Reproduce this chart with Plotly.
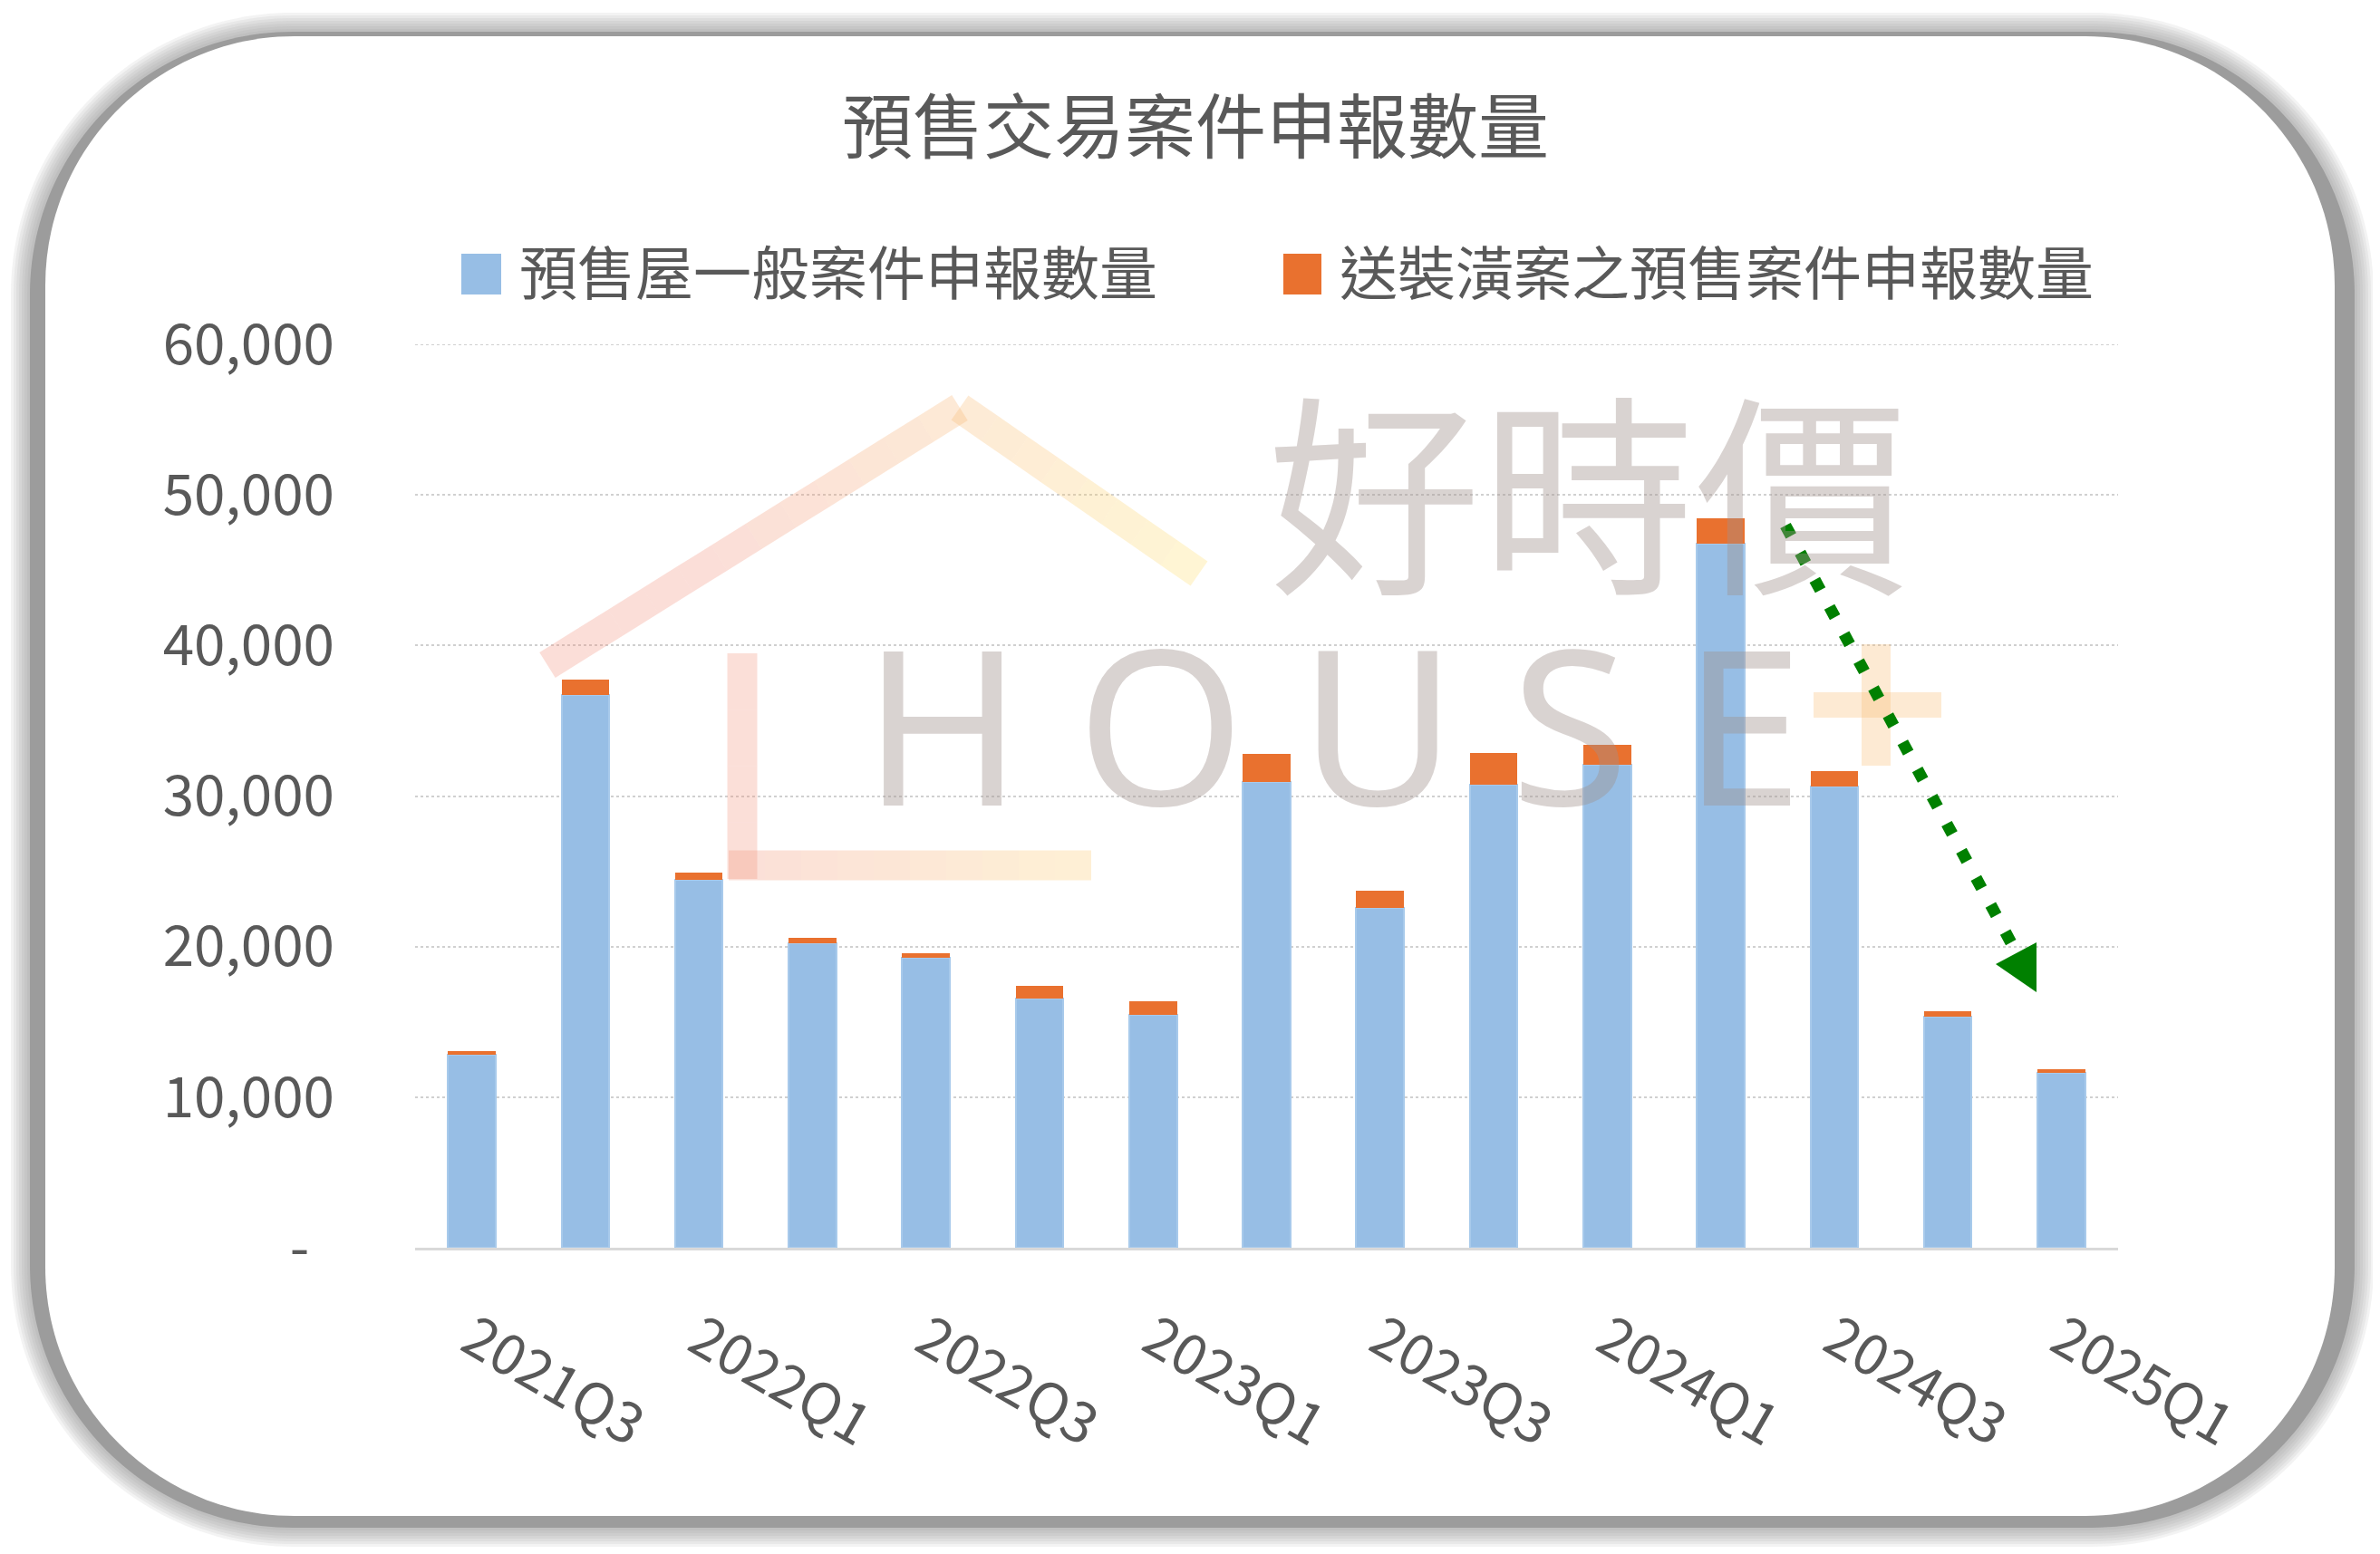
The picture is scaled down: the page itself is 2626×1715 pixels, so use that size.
import plotly.graph_objects as go

# ---------------- data ----------------
quarters = ["2021Q3", "2021Q4", "2022Q1", "2022Q2", "2022Q3", "2022Q4", "2023Q1", "2023Q2",
            "2023Q3", "2023Q4", "2024Q1", "2024Q2", "2024Q3", "2024Q4", "2025Q1"]
general_cases = [12820, 36690, 24430, 20200, 19230, 16570, 15480, 30930,
                 22540, 30730, 32100, 46770, 30650, 15360, 11610]
sent_cases = [250, 1050, 490, 400, 320, 810, 890, 1890,
              1170, 2140, 1330, 1700, 1010, 370, 240]
series_names = ["預售屋一般案件申報數量", "送裝潢案之預售案件申報數量"]
title_text = "預售交易案件申報數量"
y_tickvals = [0, 10000, 20000, 30000, 40000, 50000, 60000]
y_ticktext = ["-\u00a0\u00a0", "10,000", "20,000", "30,000", "40,000", "50,000", "60,000"]
x_tickvals = quarters[::2]

# ---------------- geometry helpers ----------------
OFF = 8                      # browser body margin
FW, FH = 2626 - 2 * OFF, 1715 - 2 * OFF
L, T, R, B = 458, 380, 2337, 1377   # plot area in page pixels
PW, PH = R - L, B - T
FONT = "Noto Sans CJK TC"
TXT = "#595959"
BLUE = "#97BEE5"
ORANGE = "#E9712F"
YMAX = 60000


def P(x, y):
    return (x - L) / PW, 1 - (y - T) / PH


def fmt(x, y):
    a, b = P(x, y)
    return f"{a:.5f},{b:.5f}"


def rr(x0, y0, x1, y1, r):
    k = 0.5523 * r
    return (f"M{fmt(x0 + r, y0)} L{fmt(x1 - r, y0)} "
            f"C{fmt(x1 - r + k, y0)} {fmt(x1, y0 + r - k)} {fmt(x1, y0 + r)} "
            f"L{fmt(x1, y1 - r)} "
            f"C{fmt(x1, y1 - r + k)} {fmt(x1 - r + k, y1)} {fmt(x1 - r, y1)} "
            f"L{fmt(x0 + r, y1)} "
            f"C{fmt(x0 + r - k, y1)} {fmt(x0, y1 - r + k)} {fmt(x0, y1 - r)} "
            f"L{fmt(x0, y0 + r)} "
            f"C{fmt(x0, y0 + r - k)} {fmt(x0 + r - k, y0)} {fmt(x0 + r, y0)} Z")


fig = go.Figure()
fig.add_trace(go.Bar(x=quarters, y=general_cases, name=series_names[0],
                     marker=dict(color=BLUE, line=dict(color="#A8CAEB", width=2))))
fig.add_trace(go.Bar(x=quarters, y=sent_cases, name=series_names[1],
                     marker=dict(color=ORANGE, line=dict(width=0))))

shapes = []
# ---- card frame with shadow ----
for i in range(7, 0, -1):
    e = 3 * i
    shapes.append(dict(type="path", xref="paper", yref="paper", layer="below",
                       path=rr(33 - e, 35 - e, 2598 + e, 1686 + e, 290 + e),
                       fillcolor="rgba(140,140,140,0.10)", line=dict(width=0)))
shapes.append(dict(type="path", xref="paper", yref="paper", layer="below",
                   path=rr(33, 35, 2598, 1686, 290),
                   fillcolor="#9C9C9C", line=dict(width=0)))
shapes.append(dict(type="path", xref="paper", yref="paper", layer="below",
                   path=rr(50, 40, 2576, 1673, 275),
                   fillcolor="white", line=dict(width=0)))

# top gridline at 60,000 (edge of the plot area)
shapes.append(dict(type="line", xref="paper", yref="y", layer="below",
                   x0=0, x1=1, y0=YMAX, y1=YMAX,
                   line=dict(color="#D0D0D0", width=2, dash="dot")))


# ---- watermark house outline (gradient pink -> yellow) ----
def grad_color(x):
    t = min(max((x - 780) / (1330 - 780), 0), 1)
    r = 240 + (255 - 240) * t
    g = 135 + (222 - 135) * t
    b = 115 + (98 - 115) * t
    return f"rgba({r:.0f},{g:.0f},{b:.0f},0.28)"


def grad_line(p0, p1, n=12, width=33):
    for i in range(n):
        xa = p0[0] + (p1[0] - p0[0]) * i / n
        ya = p0[1] + (p1[1] - p0[1]) * i / n
        xb = p0[0] + (p1[0] - p0[0]) * (i + 1) / n
        yb = p0[1] + (p1[1] - p0[1]) * (i + 1) / n
        a0, b0 = P(xa, ya)
        a1, b1 = P(xb, yb)
        shapes.append(dict(type="line", xref="paper", yref="paper", layer="above",
                           x0=a0, y0=b0, x1=a1, y1=b1,
                           line=dict(color=grad_color((xa + xb) / 2), width=width)))


grad_line((604, 734), (1059, 450))
grad_line((1059, 450), (1323, 633), n=8)
grad_line((819, 721), (819, 970), n=4)
grad_line((804, 955), (1204, 955), n=10)

# orange plus of the watermark
for (x0, y0, x1, y1) in [(2054, 711, 2086, 845), (2001, 764, 2142, 792)]:
    a0, b0 = P(x0, y0)
    a1, b1 = P(x1, y1)
    shapes.append(dict(type="rect", xref="paper", yref="paper", layer="above",
                       x0=a0, y0=b0, x1=a1, y1=b1,
                       fillcolor="rgba(248,185,110,0.30)", line=dict(width=0)))

# ---- green dotted trend arrow ----
a0, b0 = P(1970, 580)
a1, b1 = P(2222, 1046)
shapes.append(dict(type="line", xref="paper", yref="paper", layer="above",
                   x0=a0, y0=b0, x1=a1, y1=b1,
                   line=dict(color="#008000", width=13, dash="13px,21px")))
shapes.append(dict(type="path", xref="paper", yref="paper", layer="above",
                   path=f"M{fmt(2202, 1064)} L{fmt(2247, 1040)} L{fmt(2247, 1095)} Z",
                   fillcolor="#008000", line=dict(width=0)))

# ---- manual legend squares ----
for (x0, x1, col) in [(509, 553, BLUE), (1416, 1458, ORANGE)]:
    a0, b0 = P(x0, 280)
    a1, b1 = P(x1, 325)
    shapes.append(dict(type="rect", xref="paper", yref="paper", layer="above",
                       x0=a0, y0=b0, x1=a1, y1=b1, fillcolor=col, line=dict(width=0)))

annotations = []
for (x, txt) in [(571, series_names[0]), (1476, series_names[1])]:
    a, b = P(x, 297)
    annotations.append(dict(x=a, y=b, xref="paper", yref="paper", text=txt,
                            showarrow=False, xanchor="left", yanchor="middle",
                            font=dict(family=FONT, size=64, color=TXT)))

# watermark text
a, b = P(1752, 535)
annotations.append(dict(x=a, y=b, xref="paper", yref="paper", text="好時價",
                        showarrow=False, xanchor="center", yanchor="middle",
                        font=dict(family=FONT, size=236, color="rgba(160,145,140,0.40)")))
a, b = P(1470, 797)
annotations.append(dict(x=a, y=b, xref="paper", yref="paper",
                        text="H\u2005O\u2005U\u2005S\u2005E",
                        showarrow=False, xanchor="center", yanchor="middle",
                        font=dict(family="Noto Sans", size=238,
                                  color="rgba(160,145,140,0.40)")))

fig.update_layout(
    width=FW, height=FH,
    margin=dict(l=L - OFF, r=FW - (R - OFF), t=T - OFF, b=FH - (B - OFF), pad=0),
    paper_bgcolor="white", plot_bgcolor="rgba(0,0,0,0)",
    barmode="stack", bargap=0.58, showlegend=False,
    title=dict(text=title_text, x=(1319 - OFF) / FW, xref="container", xanchor="center",
               y=1 - (142 - OFF) / FH, yref="container", yanchor="middle",
               font=dict(family=FONT, size=78, color=TXT)),
    font=dict(family=FONT, color=TXT),
    shapes=shapes, annotations=annotations,
)
fig.update_yaxes(range=[0, YMAX], tickvals=y_tickvals, ticktext=y_ticktext,
                 showgrid=True, gridcolor="#D0D0D0", gridwidth=2, griddash="dot",
                 zeroline=False, showline=False, ticks="",
                 ticklabelstandoff=88, tickfont=dict(family=FONT, size=62, color=TXT))
fig.update_xaxes(tickvals=x_tickvals, ticktext=x_tickvals, tickangle=30,
                 showgrid=False, showline=True, linecolor="#D9D9D9", linewidth=3,
                 ticks="", ticklabelstandoff=38,
                 tickfont=dict(family=FONT, size=62, color=TXT))

fig.write_html("out.html")
